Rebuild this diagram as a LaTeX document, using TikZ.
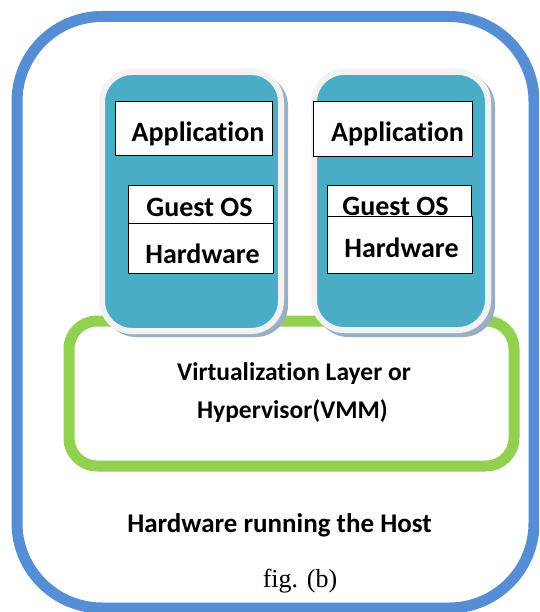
\documentclass[tikz,border=0pt]{standalone}
\usepackage{fontspec}
\setmainfont{Carlito}[Ligatures=NoCommon]
\newfontfamily\tnr{Liberation Serif}[Ligatures=NoCommon]
\definecolor{frameblue}{HTML}{558ED5}
\definecolor{layergreen}{HTML}{92D050}
\definecolor{vmteal}{HTML}{4BACC6}
\definecolor{vmrim}{HTML}{F2F2F2}
\definecolor{vmshadow}{HTML}{9AAFC3}
\tikzset{
  hostframe/.style={draw=frameblue, line width=11pt, rounded corners=85pt},
  layerframe/.style={draw=layergreen, line width=11pt, rounded corners=28pt, fill=white},
  vmshade/.style={fill=vmshadow, rounded corners=32pt},
  vmbody/.style={draw=vmrim, line width=6pt, fill=vmteal, rounded corners=30pt},
  layerbox/.style={draw=black, line width=1pt, fill=white, inner sep=0pt},
  vmtext/.style={font=\fontsize{28}{32}\selectfont\bfseries, inner sep=0pt, anchor=base},
  hyptext/.style={font=\fontsize{25.5}{30}\selectfont\bfseries, inner sep=0pt, anchor=base},
  hosttext/.style={font=\fontsize{27}{30}\selectfont\bfseries, inner sep=0pt, anchor=base},
  figtext/.style={font=\tnr\fontsize{26}{30}\selectfont, inner sep=0pt, anchor=base},
}
\begin{document}
\begin{tikzpicture}[x=1pt,y=-1pt]
\useasboundingbox (0,0) rectangle (539,612);
\clip (0,0) rectangle (539,612);
% host frame
\draw[hostframe] (17,16.5) rectangle (534,608);
% virtualization layer
\draw[layerframe] (69,321) rectangle (514,466);
% VM 1
\fill[vmshade] (104,74) rectangle (288,337);
\draw[vmbody] (102,72) rectangle (281,331);
% VM 2
\fill[vmshade] (316,74) rectangle (495,337);
\draw[vmbody] (314,72) rectangle (488,330);
% VM 1 boxes
\node[layerbox, minimum width=157pt, minimum height=54pt] (app1) at (193.5,129) {};
\node[vmtext] (app1t) at (198,142) {Application};
\node[layerbox, minimum width=145pt, minimum height=40pt] (os1) at (200.5,206) {};
\node[vmtext] (os1t) at (199.5,217) {Guest OS};
\node[layerbox, minimum width=145pt, minimum height=50pt] (hw1) at (200.5,248) {};
\node[vmtext] (hw1t) at (202.5,263) {Hardware};
% VM 2 boxes
\node[layerbox, minimum width=159pt, minimum height=55pt] (app2) at (392.5,129.5) {};
\node[vmtext] (app2t) at (397.5,142) {Application};
\node[layerbox, minimum width=144pt, minimum height=36pt] (os2) at (399,204) {};
\node[vmtext] (os2t) at (395.5,215) {Guest OS};
\node[layerbox, minimum width=145pt, minimum height=57pt] (hw2) at (399.5,244.5) {};
\node[vmtext] (hw2t) at (401.5,257) {Hardware};
% texts
\node[hyptext] (hyp1) at (294,380) {Virtualization Layer or};
\node[hyptext] (hyp2) at (292.5,418) {Hypervisor(VMM)};
\node[hosttext] (host) at (279.5,532) {Hardware running the Host};
\node[figtext] (fig) at (300,587) {fig. (b)};
\end{tikzpicture}
\end{document}
